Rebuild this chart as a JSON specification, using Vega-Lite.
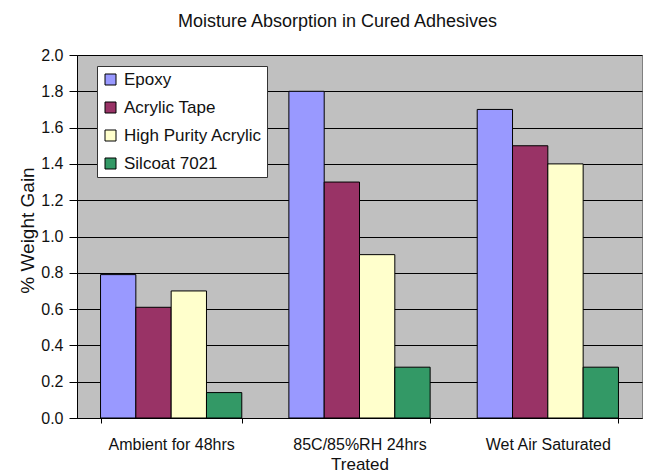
{
  "$schema": "https://vega.github.io/schema/vega-lite/v6.json",
  "autosize": {"type": "none"},
  "padding": {"left": 77, "top": 55, "right": 18, "bottom": 56},
  "width": 565,
  "height": 363,
  "background": "white",
  "title": {
    "text": "Moisture Absorption in Cured Adhesives",
    "font": "Liberation Sans",
    "fontSize": 18,
    "fontWeight": "normal",
    "color": "#111",
    "anchor": "middle",
    "dx": -22,
    "offset": 16
  },
  "config": {
    "view": {"fill": "#C0C0C0", "stroke": "#808080", "strokeWidth": 1},
    "font": "Liberation Sans"
  },
  "data": {
    "values": [
      {"treatment": "Ambient for 48hrs", "material": "Epoxy", "gain": 0.79},
      {"treatment": "Ambient for 48hrs", "material": "Acrylic Tape", "gain": 0.61},
      {"treatment": "Ambient for 48hrs", "material": "High Purity Acrylic", "gain": 0.7},
      {"treatment": "Ambient for 48hrs", "material": "Silcoat 7021", "gain": 0.14},
      {"treatment": "85C/85%RH 24hrs", "material": "Epoxy", "gain": 1.8},
      {"treatment": "85C/85%RH 24hrs", "material": "Acrylic Tape", "gain": 1.3},
      {"treatment": "85C/85%RH 24hrs", "material": "High Purity Acrylic", "gain": 0.9},
      {"treatment": "85C/85%RH 24hrs", "material": "Silcoat 7021", "gain": 0.28},
      {"treatment": "Wet Air Saturated", "material": "Epoxy", "gain": 1.7},
      {"treatment": "Wet Air Saturated", "material": "Acrylic Tape", "gain": 1.5},
      {"treatment": "Wet Air Saturated", "material": "High Purity Acrylic", "gain": 1.4},
      {"treatment": "Wet Air Saturated", "material": "Silcoat 7021", "gain": 0.28}
    ]
  },
  "mark": {"type": "bar", "stroke": "#000", "strokeWidth": 1},
  "encoding": {
    "x": {
      "field": "treatment",
      "type": "nominal",
      "sort": ["Ambient for 48hrs", "85C/85%RH 24hrs", "Wet Air Saturated"],
      "scale": {"paddingInner": 0.25, "paddingOuter": 0.125},
      "axis": {
        "title": "Treated",
        "titleFont": "Liberation Sans",
        "titleFontSize": 17,
        "titleFontWeight": "normal",
        "titleColor": "#111",
        "titlePadding": 4,
        "labelAngle": 0,
        "labelFont": "Liberation Sans",
        "labelFontSize": 16,
        "labelColor": "#111",
        "labelPadding": 13,
        "tickBand": "extent",
        "tickColor": "#000",
        "tickSize": 5,
        "domainColor": "#000",
        "grid": false
      }
    },
    "xOffset": {
      "field": "material",
      "type": "nominal",
      "sort": ["Epoxy", "Acrylic Tape", "High Purity Acrylic", "Silcoat 7021"],
      "scale": {"paddingInner": 0, "paddingOuter": 0}
    },
    "y": {
      "field": "gain",
      "type": "quantitative",
      "scale": {"domain": [0, 2], "nice": false},
      "axis": {
        "title": "% Weight Gain",
        "titleFont": "Liberation Sans",
        "titleFontSize": 19,
        "titleFontWeight": "normal",
        "titleColor": "#111",
        "titlePadding": 3,
        "titleY": 175,
        "values": [0, 0.2, 0.4, 0.6, 0.8, 1.0, 1.2, 1.4, 1.6, 1.8, 2.0],
        "format": ".1f",
        "labelFont": "Liberation Sans",
        "labelFontSize": 16,
        "labelColor": "#111",
        "labelPadding": 6,
        "tickColor": "#000",
        "tickSize": 8,
        "domainColor": "#000",
        "grid": true,
        "gridColor": "#000",
        "gridWidth": 1,
        "gridOpacity": 1
      }
    },
    "fill": {
      "field": "material",
      "type": "nominal",
      "scale": {
        "domain": ["Epoxy", "Acrylic Tape", "High Purity Acrylic", "Silcoat 7021"],
        "range": ["#9999FF", "#993366", "#FFFFCC", "#339966"]
      },
      "legend": {
        "title": null,
        "orient": "none",
        "legendX": 20,
        "legendY": 11,
        "fillColor": "#FFFFFF",
        "strokeColor": "#333",
        "padding": 5,
        "rowPadding": 10,
        "symbolType": "square",
        "symbolSize": 121,
        "symbolStrokeColor": "#000",
        "symbolStrokeWidth": 1,
        "symbolOpacity": 1,
        "labelFont": "Liberation Sans",
        "labelFontSize": 17,
        "labelColor": "#111",
        "labelOffset": 5,
        "labelLimit": 300
      }
    }
  }
}
